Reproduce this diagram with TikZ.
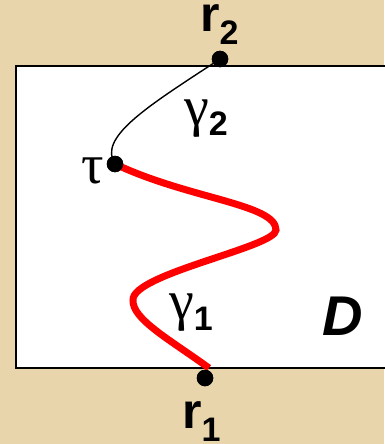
\documentclass[tikz,border=0pt]{standalone}
\usepackage{fontspec}
\setmainfont{Liberation Sans}
\newfontfamily\greekfont{Liberation Serif}
\usepackage{xcolor}
\usepackage{tikz}
\usetikzlibrary{arrows.meta,
positioning,
calc}

\definecolor{parchment}{RGB}{233,213,172}
\definecolor{pathred}{RGB}{255,0,0}

\newcommand{\subidx}[2]{\raisebox{-#1}{\normalfont\fontsize{34}{34}\selectfont\bfseries #2}}

\begin{document}
\begin{tikzpicture}[
    x=1pt, y=-1pt,
    dot/.style={
        circle,
        fill=black,
        inner sep=0pt,
        minimum size=16.5pt
    },
    endlabel/.style={
        inner sep=0pt,
        anchor=base west,
        font=\fontsize{50}{52}\selectfont\bfseries
    },
    greeklabel/.style={
        inner sep=0pt,
        anchor=base west,
        font=\fontsize{56}{58}\selectfont\greekfont
    },
    thinpath/.style={
        draw=black,
        line width=1.4pt
    },
    thickpath/.style={
        draw=pathred,
        line width=7pt
    }
]

\useasboundingbox[fill=parchment] (0,0) rectangle (384,444);

% domain D
\draw[fill=white, line width=2pt] (420,66) -- (16,66) -- (16,368) -- (420,368);

\node[dot] (r2) at (220,59) {};
\node[dot] (tau) at (115,164) {};
\node[dot] (r1) at (205,378) {};

\coordinate (bendR) at (276,230);
\coordinate (bendL) at (133,300);
\coordinate (gend) at (209,368);

% gamma_2 and the shadow of gamma_1
\draw[thinpath] (r2) .. controls (145,108) and (98,138) .. (tau.center);
\draw[thinpath] (tau.center) .. controls (190,200) and (277,205) .. (bendR)
    .. controls (277,248) and (133,275) .. (bendL)
    .. controls (133,320) and (170,340) .. (gend);

% gamma_1
\draw[thickpath, xshift=-1pt, yshift=1pt] (tau.center) .. controls (190,200) and (277,205) .. (bendR)
    .. controls (277,248) and (133,275) .. (bendL)
    .. controls (133,320) and (170,340) .. (gend);

\node[dot] at (r2) {};
\node[dot] at (tau) {};
\node[dot] at (r1) {};

\node[endlabel] (r2lbl) at (200,32) {r\subidx{13pt}{2}};
\node[endlabel] (r1lbl) at (182,428) {r\subidx{13pt}{1}};
\node[greeklabel] (taulbl) at (81,183) {τ};
\node[greeklabel] (g2lbl) at (184,125) {γ\subidx{10pt}{2}};
\node[greeklabel] (g1lbl) at (169,319) {γ\subidx{11pt}{1}};
\node[endlabel, font=\fontsize{56}{58}\selectfont\bfseries\itshape] (dlbl) at (322,335) {D};

\end{tikzpicture}
\end{document}
